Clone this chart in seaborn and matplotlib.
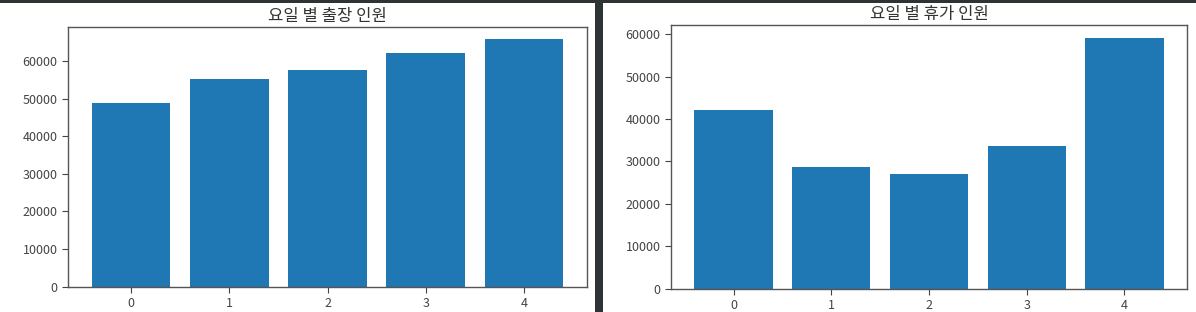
import matplotlib
matplotlib.use("Agg")
import matplotlib.pyplot as plt
import seaborn as sns
import pandas as pd
from matplotlib.patches import Rectangle

plt.rcParams['font.family'] = ['Noto Sans CJK KR', 'DejaVu Sans']
plt.rcParams['axes.unicode_minus'] = False

days = [0, 1, 2, 3, 4]
trip_counts = [48800, 55200, 57700, 62200, 65900]
leave_counts = [42100, 28600, 27100, 33500, 59200]
title_trip = "요일 별 출장 인원"
title_leave = "요일 별 휴가 인원"

W, H = 1196, 312
fig = plt.figure(figsize=(W / 100, H / 100), dpi=100, facecolor='#2e3336')
fig.patches.append(Rectangle((0, 0), 595 / W, (H - 3) / H, transform=fig.transFigure,
                             facecolor='white', edgecolor='none', zorder=-10))
fig.patches.append(Rectangle((603 / W, 0), 1 - 603 / W, (H - 3) / H, transform=fig.transFigure,
                             facecolor='white', edgecolor='none', zorder=-10))

ax1 = fig.add_axes([68 / W, (H - 286.5) / H, 519 / W, 259.5 / H])
ax2 = fig.add_axes([671 / W, (H - 288.5) / H, 516 / W, 263.5 / H])

for ax, vals, title in [(ax1, trip_counts, title_trip), (ax2, leave_counts, title_leave)]:
    ax.set_zorder(5)
    df = pd.DataFrame({"day": days, "count": vals})
    sns.barplot(data=df, x="day", y="count", ax=ax, color="#1f77b4", saturation=1,
                width=0.8, errorbar=None)
    ax.set_xlim(-0.64, 4.64)
    ax.set_ylim(0, max(vals) * 1.05)
    ax.set_xlabel("")
    ax.set_ylabel("")
    ax.set_title(title, fontsize=12, color='#333333', pad=4)
    ax.tick_params(labelsize=9, colors='#444444', length=4, width=0.8)
    for s in ax.spines.values():
        s.set_color('#555555')
        s.set_linewidth(1.0)
    ax.set_facecolor('white')

fig.savefig("out.png", dpi=100, facecolor=fig.get_facecolor())
